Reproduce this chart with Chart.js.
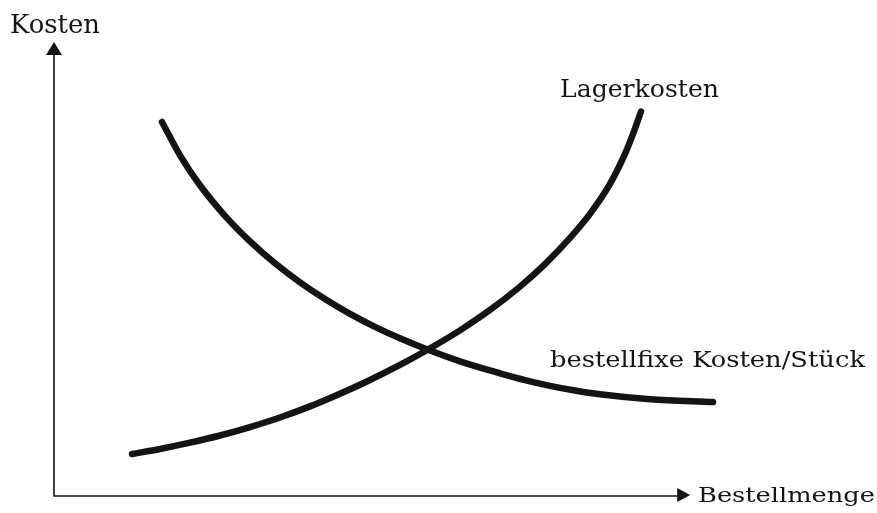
<!DOCTYPE html>
<html>
<head>
<meta charset="utf-8">
<script src="https://cdn.jsdelivr.net/npm/chart.js@4"></script>
<style>
  html, body { margin: 0; padding: 0; background: #ffffff; }
  canvas { display: block; }
</style>
</head>
<body>
<canvas id="c" width="877" height="513"></canvas>
<script>
// ---- Data (axis ranges 0..100) ----
const axisTitleY = "Kosten";
const axisTitleX = "Bestellmenge";
const seriesNames = ["Lagerkosten", "bestellfixe Kosten/Stück"];

const lagerX = [10.99, 14.93, 19.15, 23.38, 27.61, 31.83, 36.06, 40.28, 44.51, 48.73, 52.68, 57.18, 61.41, 65.63, 69.15, 72.68, 75.49, 78.31, 80.42, 81.55, 82.68];
const lagerY = [9.25, 10.36, 11.75, 13.33, 15.19, 17.30, 19.74, 22.52, 25.56, 28.86, 32.26, 36.48, 40.97, 46.12, 51.08, 56.85, 62.14, 68.74, 75.35, 79.76, 84.69];

const bestellX = [15.21, 17.75, 20.56, 24.08, 27.61, 31.13, 34.65, 38.17, 41.69, 45.21, 48.73, 52.68, 57.18, 62.82, 66.34, 69.86, 73.38, 76.90, 83.94, 92.82];
const bestellY = [82.38, 75.04, 68.44, 61.72, 56.10, 51.26, 47.07, 43.39, 40.13, 37.27, 34.74, 32.20, 29.67, 27.03, 25.54, 24.27, 23.23, 22.40, 21.30, 20.68];

const toPoints = (xs, ys) => xs.map((x, i) => ({ x: x, y: ys[i] }));

const ink = "#141414";
const fontFam = "'DejaVu Serif', 'Liberation Serif', serif";

function drawLabel(ctx, text, x, baseline, size, targetW) {
  ctx.save();
  ctx.font = size + "px " + fontFam;
  const w = ctx.measureText(text).width;
  ctx.translate(x, baseline);
  ctx.scale(targetW / w, 1);
  ctx.fillStyle = ink;
  ctx.textBaseline = "alphabetic";
  ctx.textAlign = "left";
  ctx.fillText(text, 0, 0);
  ctx.restore();
}

const axesPlugin = {
  id: "axesArrows",
  beforeDatasetsDraw(chart) {
    const ctx = chart.ctx;
    const xs = chart.scales.x, ys = chart.scales.y;
    const ox = xs.getPixelForValue(0), oy = ys.getPixelForValue(0);
    const yTip = ys.getPixelForValue(100);
    const xTip = xs.getPixelForValue(89.6);
    ctx.save();
    ctx.strokeStyle = ink;
    ctx.fillStyle = ink;
    ctx.lineWidth = 1.6;
    ctx.beginPath();
    ctx.moveTo(ox, yTip + 12);
    ctx.lineTo(ox, oy);
    ctx.lineTo(xTip - 12, oy);
    ctx.stroke();
    // y arrow
    ctx.beginPath();
    ctx.moveTo(ox, yTip);
    ctx.lineTo(ox - 8, yTip + 13);
    ctx.lineTo(ox + 8, yTip + 13);
    ctx.closePath();
    ctx.fill();
    // x arrow
    ctx.beginPath();
    ctx.moveTo(xTip, oy - 1);
    ctx.lineTo(xTip - 13, oy - 8);
    ctx.lineTo(xTip - 13, oy + 6);
    ctx.closePath();
    ctx.fill();
    ctx.restore();
  },
  afterDraw(chart) {
    const ctx = chart.ctx;
    drawLabel(ctx, axisTitleY, 10, 33, 26, 90);
    drawLabel(ctx, seriesNames[0], 560, 97, 25, 159);
    drawLabel(ctx, seriesNames[1], 550, 367, 22, 315);
    drawLabel(ctx, axisTitleX, 698, 502, 21, 177);
  }
};

const lineStyle = {
  borderColor: ink,
  borderWidth: 6.5,
  borderCapStyle: "round",
  borderJoinStyle: "round",
  pointRadius: 0,
  cubicInterpolationMode: "monotone",
  fill: false
};

new Chart(document.getElementById("c"), {
  type: "line",
  data: {
    datasets: [
      Object.assign({ label: seriesNames[0], data: toPoints(lagerX, lagerY) }, lineStyle),
      Object.assign({ label: seriesNames[1], data: toPoints(bestellX, bestellY) }, lineStyle)
    ]
  },
  options: {
    responsive: false,
    devicePixelRatio: 1,
    animation: false,
    clip: false,
    layout: { padding: { left: 54, right: 113, top: 42, bottom: 17 } },
    plugins: {
      legend: { display: false },
      tooltip: { enabled: false },
      title: { display: false }
    },
    scales: {
      x: { type: "linear", min: 0, max: 100, display: false },
      y: { type: "linear", min: 0, max: 100, display: false }
    }
  },
  plugins: [axesPlugin]
});
</script>
</body>
</html>
